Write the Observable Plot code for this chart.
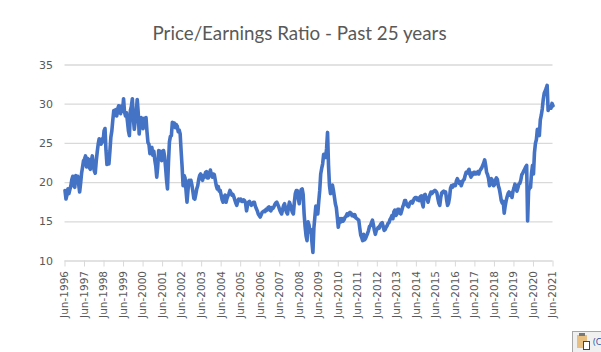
<!DOCTYPE html>
<html>
<head>
<meta charset="utf-8">
<script src="https://cdn.jsdelivr.net/npm/d3@7"></script>
<script src="https://cdn.jsdelivr.net/npm/@observablehq/plot@0.6"></script>
<style>
html,body{margin:0;padding:0;background:#fff;overflow:hidden}
#wrap{position:relative;width:601px;height:352px}
#paste{position:absolute;left:572px;top:331px;width:29px;height:21px;background:#f0f0f0;border:1px solid #a6a6a6;border-right:0;border-bottom:0;box-sizing:border-box;overflow:hidden;font:9px "Open Sans",sans-serif;color:#1f4e9e}
#paste .a{position:absolute;left:4px;top:3px;width:10px;height:13px;background:#e8bf82}
#paste .b{position:absolute;left:10px;top:9px;width:7px;height:9px;background:#fff;border:1px solid #444;box-sizing:border-box}
#paste .c{position:absolute;left:6px;top:1px;width:6px;height:3px;background:#777}
#paste .t{position:absolute;left:20px;top:3px}
</style>
</head>
<body>
<div id="wrap"></div>
<script>
const title = "Price/Earnings Ratio - Past 25 years";
const yTicks = [10, 15, 20, 25, 30, 35];
const xTickYears = d3.range(1996, 2022);
const pointsPerYear = 20;
const peRatio = [
19.0,17.9,18.4,19.2,18.6,19.1,19.6,20.4,20.8,19.6,19.4,20.9,20.4,20.8,19.8,18.8,19.9,21.2,22.0,22.8,
23.0,23.4,22.0,23.1,23.0,21.9,21.7,22.8,23.4,22.3,21.5,21.2,22.7,23.9,24.9,25.6,25.2,24.9,25.6,25.2,
26.6,26.9,24.1,22.3,22.5,22.4,24.0,25.8,26.6,28.0,29.2,28.6,29.3,28.5,29.4,29.8,29.0,28.8,29.8,29.1,
30.7,29.0,28.5,28.9,27.8,26.6,26.0,29.2,29.7,30.7,28.2,26.8,27.9,29.0,30.6,29.0,26.2,27.6,28.3,27.0,
26.9,28.2,27.4,28.3,26.5,25.1,24.9,23.7,24.4,24.5,23.5,24.0,22.9,22.1,20.7,22.0,24.1,23.5,24.0,22.8,
23.5,24.1,23.4,22.0,20.4,19.2,22.5,25.2,25.9,26.0,27.7,27.1,27.6,27.0,27.4,27.2,26.5,26.7,26.2,24.0,
22.0,19.6,20.9,20.6,19.0,17.5,19.0,20.3,20.0,20.3,19.7,18.9,18.0,17.9,18.5,19.2,19.6,20.4,20.9,21.1,
20.5,20.3,20.9,20.7,21.3,21.4,20.6,20.6,21.1,21.6,21.0,20.7,21.1,21.0,20.3,19.6,19.2,19.5,18.9,19.0,
18.4,17.8,17.5,18.2,18.4,17.5,18.0,18.3,18.6,19.0,18.7,18.4,18.5,18.2,17.8,17.4,17.1,17.6,17.9,17.7,
17.9,17.6,17.6,17.8,17.7,17.4,16.4,17.1,17.5,17.6,17.3,17.1,17.3,17.5,17.5,17.0,16.7,16.4,16.0,15.8,
15.6,15.9,16.2,16.3,16.4,16.3,16.6,16.5,16.8,16.9,16.5,16.4,16.8,16.7,16.9,17.2,17.4,17.5,17.2,16.9,
16.5,16.2,16.0,16.6,17.1,17.3,16.6,16.2,16.0,16.9,17.5,17.1,16.6,16.2,16.0,17.5,18.6,19.0,19.0,18.0,
17.3,18.4,19.1,19.2,18.5,16.0,14.4,13.2,12.6,15.0,14.6,13.7,14.0,12.4,11.1,14.2,15.6,17.0,16.4,16.0,
17.6,19.0,21.1,21.8,22.4,23.6,23.6,23.2,24.3,26.4,22.2,19.6,18.6,18.7,19.7,19.0,18.2,17.3,16.8,15.6,
14.3,15.0,15.4,15.0,15.4,15.1,15.3,15.6,15.7,16.0,15.8,16.1,16.2,16.1,15.8,15.9,15.7,15.9,15.5,15.4,
15.3,15.2,14.2,13.3,13.0,12.6,13.4,12.7,12.9,13.2,13.5,13.9,14.4,14.5,14.9,15.2,14.6,13.9,13.4,13.9,
14.1,14.3,14.2,14.6,14.8,14.9,14.4,13.9,14.0,14.3,14.5,14.8,14.9,15.3,15.5,15.8,15.4,16.3,16.5,15.8,
16.0,16.6,16.6,16.1,16.0,16.4,16.9,17.2,17.7,17.7,17.2,17.0,16.9,17.3,17.5,17.6,17.4,17.7,18.0,18.1,
18.1,17.8,18.0,17.7,18.2,18.3,17.4,16.9,18.4,18.5,18.0,17.9,17.5,18.1,18.5,18.8,18.6,18.8,18.9,19.0,
18.9,18.7,18.0,17.4,17.1,18.1,18.7,18.8,18.9,18.7,18.8,17.8,17.1,17.4,18.1,19.3,19.6,19.4,19.7,19.6,
19.6,20.2,20.5,20.2,19.9,20.1,19.6,20.0,20.3,20.4,20.9,21.3,21.2,21.5,21.7,21.0,20.7,21.2,21.0,21.3,
21.3,21.1,21.2,21.4,21.1,21.5,21.7,21.9,22.2,22.5,22.9,22.2,21.3,21.0,20.5,19.6,20.0,20.5,20.2,19.6,
19.7,20.3,20.6,20.4,19.6,19.2,18.5,17.7,17.4,17.6,16.1,17.0,17.7,18.2,18.6,18.8,18.4,18.6,18.1,18.9,
19.3,19.8,19.5,18.9,19.3,19.8,19.9,20.3,21.0,21.2,21.5,21.7,22.0,22.2,15.1,19.0,19.3,19.4,21.2,22.2,
21.1,23.8,25.0,25.5,26.8,26.2,26.0,28.0,28.6,29.4,30.6,31.4,31.7,32.0,32.4,29.2,29.6,29.7,29.5,30.1,
29.8
];
const grey = "#d9d9d9", ink = "#595959", blue = "#4472c4";
const rows = peRatio.map((v, i) => ({t: i / pointsPerYear, v}));
const chart = Plot.plot({
  width: 601, height: 352,
  marginLeft: 64.5, marginRight: 48.5, marginTop: 64.5, marginBottom: 91.5,
  style: {background: "#fff", fontFamily: "'DejaVu Sans', sans-serif"},
  x: {type: "linear", domain: [0, 25]},
  y: {domain: [10, 35]},
  marks: [
    Plot.gridY(yTicks, {stroke: grey, strokeOpacity: 1, strokeWidth: 1.3}),
    Plot.axisX(d3.range(0, 26), {
      tickRotate: -90, tickSize: 6, tickPadding: 4, stroke: grey, fill: ink, fontSize: 10.5,
      tickFormat: d => "Jun-" + xTickYears[d], label: null
    }),
    Plot.axisY(yTicks, {tickSize: 0, tickPadding: 12, fill: ink, fontSize: 11, label: null}),
    Plot.line(rows, {x: "t", y: "v", stroke: blue, strokeWidth: 3.6, strokeLinejoin: "round", strokeLinecap: "round"}),
    Plot.text([title], {frameAnchor: "top", dy: -31.5, dx: -9.5, fontSize: 18.8, fill: ink, fontFamily: "Lato, 'Open Sans', sans-serif", lineAnchor: "middle"})
  ]
});
const wrap = document.getElementById("wrap");
wrap.appendChild(chart);
const paste = document.createElement("div");
paste.id = "paste";
paste.innerHTML = '<div class="a"></div><div class="c"></div><div class="b"></div><div class="t">(C</div>';
wrap.appendChild(paste);
</script>
</body>
</html>
